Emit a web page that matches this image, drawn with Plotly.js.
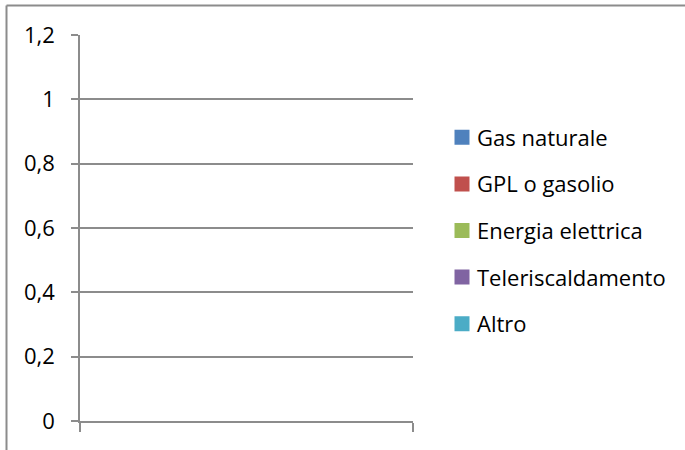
<!DOCTYPE html>
<html>
<head>
<meta charset="utf-8">
<script src="https://cdn.plot.ly/plotly-3.0.1.min.js"></script>
<style>html,body{margin:0;padding:0;background:#fff;}#chart{width:685px;height:450px;}</style>
</head>
<body>
<div id="chart"></div>
<script>
// Data (the reference chart contains no visible bars: all values blank)
const categories = ["Categoria 1"];
const seriesNames = ["Gas naturale", "GPL o gasolio", "Energia elettrica", "Teleriscaldamento", "Altro"];
const gasNaturale = [null];
const gplGasolio = [null];
const energiaElettrica = [null];
const teleriscaldamento = [null];
const altro = [null];
const yTickValues = [0, 0.2, 0.4, 0.6, 0.8, 1, 1.2];

const seriesValues = [gasNaturale, gplGasolio, energiaElettrica, teleriscaldamento, altro];
const colors = ["#4F81BD", "#C0504D", "#9BBB59", "#8064A2", "#4BACC6"];
const FONT = "'Open Sans', Lato, sans-serif";
const FS = 22;
const gray = "#8c8c8c";

const traces = seriesNames.map((name, i) => ({
  type: "bar",
  name: name,
  x: categories,
  y: seriesValues[i],
  legendgroup: "g" + i,
  marker: {color: colors[i], line: {color: colors[i], width: 3}},
  hoverinfo: "skip"
}));

const W = 685, H = 450;
const plotL = 80, plotR = 413, plotT = 35, plotB = 421;
const ph = plotB - plotT, pw = plotR - plotL;
const px = v => (v - plotL) / pw;
const py = v => (plotB - v) / ph;

const layout = {
  width: W, height: H,
  margin: {l: plotL, r: W - plotR, t: plotT, b: H - plotB, pad: 0},
  paper_bgcolor: "#ffffff",
  plot_bgcolor: "#ffffff",
  font: {family: FONT, size: FS, color: "#000000"},
  separators: ",.",
  showlegend: true,
  bargap: 0.5,
  xaxis: {
    type: "category",
    categoryarray: categories,
    range: [-0.5, 0.5],
    showticklabels: false,
    showgrid: false,
    zeroline: false,
    showline: true, linecolor: gray, linewidth: 1.8,
    ticks: "outside", tickson: "boundaries", ticklen: 9, tickcolor: gray, tickwidth: 1.8,
    fixedrange: true
  },
  yaxis: {
    range: [0, 1.2],
    tickvals: yTickValues,
    ticktext: yTickValues.map(v => String(v).replace(".", ",")),
    showgrid: true, gridcolor: gray, gridwidth: 1.8,
    zeroline: false,
    showline: true, linecolor: gray, linewidth: 1.8,
    ticks: "outside", ticklen: 7, tickcolor: gray, tickwidth: 1.8,
    ticklabelstandoff: 12,
    tickfont: {family: FONT, size: FS, color: "#000000"},
    fixedrange: true
  },
  legend: {
    x: px(437), xanchor: "left",
    y: py(116.5), yanchor: "top",
    traceorder: "grouped",
    tracegroupgap: 15,
    font: {family: FONT, size: FS, color: "#000000"},
    bgcolor: "rgba(0,0,0,0)",
    borderwidth: 0
  },
  shapes: [
    {type: "line", xref: "paper", yref: "paper", x0: px(6.5), x1: px(6.5), y0: py(460), y1: py(5.5),
     line: {color: gray, width: 2}, layer: "below"},
    {type: "line", xref: "paper", yref: "paper", x0: px(6.5), x1: px(720), y0: py(5.5), y1: py(5.5),
     line: {color: gray, width: 2}, layer: "below"}
  ]
};

Plotly.newPlot("chart", traces, layout, {staticPlot: true, displayModeBar: false}).then(gd => {
  // Excel places the legend key closer to its label than Plotly does
  gd.querySelectorAll(".legend .legendpoints").forEach(g => g.setAttribute("transform", "translate(5,0)"));
});
</script>
</body>
</html>
